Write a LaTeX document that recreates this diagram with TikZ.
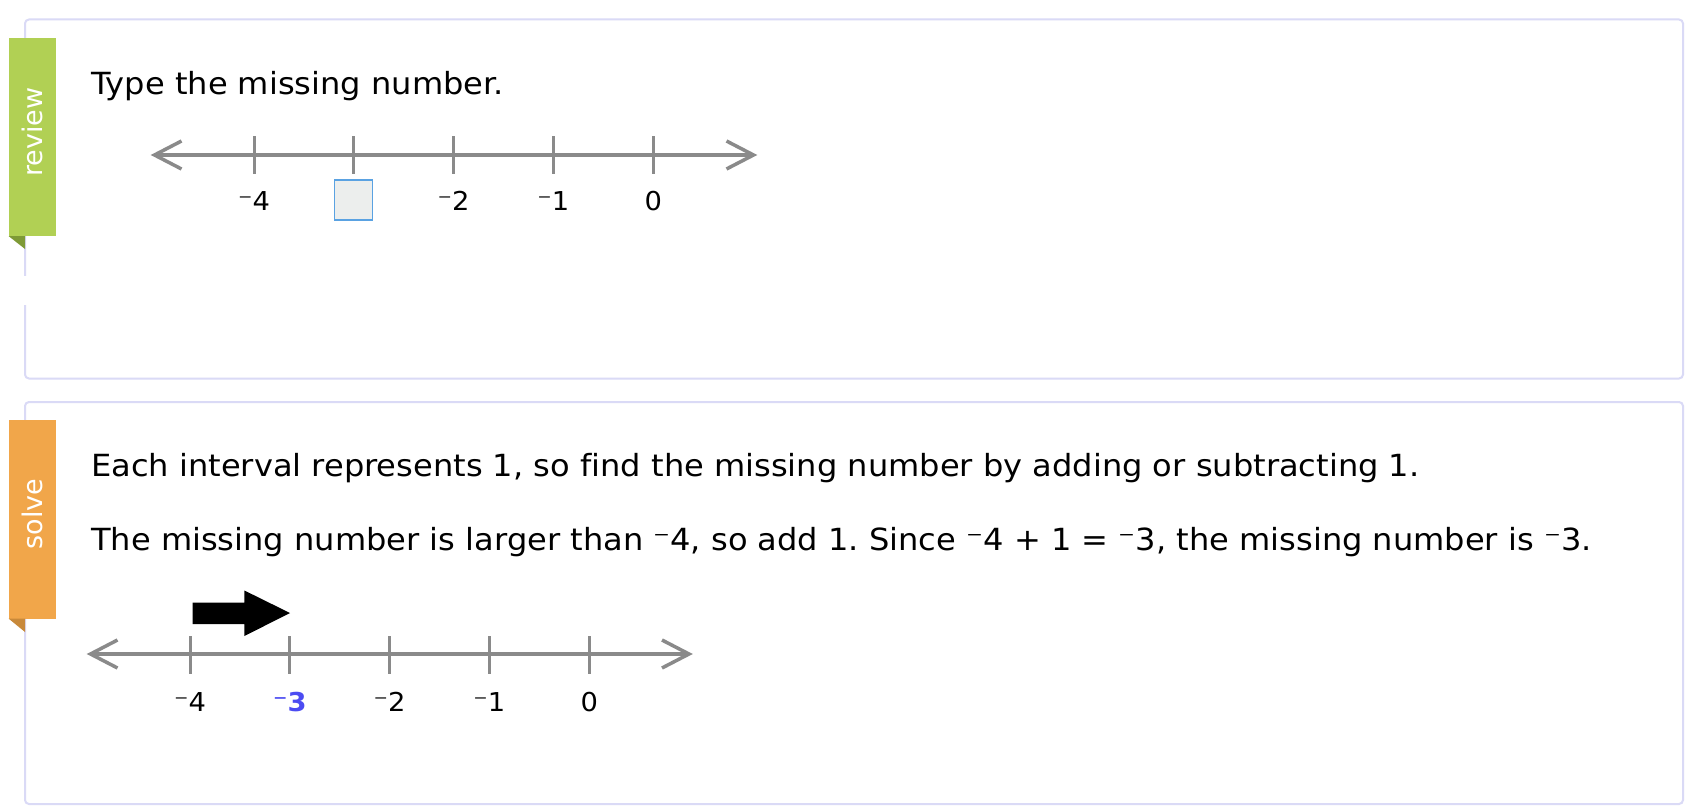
\documentclass[tikz,border=0pt]{standalone}
\usepackage{fontspec}
\setmainfont{DejaVu Sans}
\newfontfamily\bodyfont{DejaVu Sans}[FakeStretch=1.052, RawFeature={-liga}]
\frenchspacing
\definecolor{panelborder}{HTML}{DADAF6}
\definecolor{tabgreen}{HTML}{B1D054}
\definecolor{foldgreen}{HTML}{7E9A36}
\definecolor{taborange}{HTML}{F1A64A}
\definecolor{foldorange}{HTML}{C8893A}
\definecolor{axisgray}{HTML}{8A8A8A}
\definecolor{boxblue}{HTML}{5AA2E2}
\definecolor{boxfill}{HTML}{ECEEED}
\definecolor{answerblue}{HTML}{4C4CF2}
\tikzset{
  panel/.style={draw=panelborder, line width=2pt, rounded corners=4pt},
  tablabel/.style={rotate=90, text=white, inner sep=0pt, font=\fontsize{27}{32}\selectfont},
  bodytext/.style={anchor=base west, inner sep=0pt, font=\bodyfont\fontsize{30.5}{36}\selectfont},
  ticklabel/.style={anchor=base, inner sep=0pt, font=\bodyfont\fontsize{26}{30}\selectfont},
  axis/.style={draw=axisgray, line width=3.5pt},
  tickmark/.style={draw=axisgray, line width=3pt},
}
\begin{document}
\begin{tikzpicture}[x=1pt,y=-1pt]
\useasboundingbox[fill=white] (0,0) rectangle (1696,808);

% ---------- top panel ----------
\draw[panel] (25,19.5) rectangle (1683,378.5);
\fill[white] (23,276) rectangle (27,305);
\fill[tabgreen] (8.5,38) rectangle (56,236);
\fill[foldgreen] (8.5,236) -- (25,236) -- (25,249) -- cycle;
\node[tablabel] (reviewlabel) at (32,132) {review};

\node[bodytext] (question) at (91,94) {Type the missing number.};

% number line 1
\coordinate (a1l) at (154.5,155);
\coordinate (a1r) at (753.5,155);
\draw[axis] (a1l) -- (a1r);
\draw[axis] ([shift={(27,-14)}]a1l) -- (a1l) -- ([shift={(27,14)}]a1l);
\draw[axis] ([shift={(-27,-14)}]a1r) -- (a1r) -- ([shift={(-27,14)}]a1r);
\foreach \i in {0,...,4} {
  \draw[tickmark] ({254+99.8*\i},136) -- ({254+99.8*\i},174);
}
\node[ticklabel] (t1m4) at (254,210) {⁻4};
\node[draw=boxblue, fill=boxfill, line width=1.5pt, minimum width=38pt, minimum height=40pt, inner sep=0pt] (answerbox) at (353.6,200) {};
\node[ticklabel] (t1m2) at (453.6,210) {⁻2};
\node[ticklabel] (t1m1) at (553.4,210) {⁻1};
\node[ticklabel] (t1z) at (653.2,210) {0};

% ---------- bottom panel ----------
\draw[panel] (25,402) rectangle (1683,804);
\fill[taborange] (8.5,420) rectangle (56,618.5);
\fill[foldorange] (8.5,618.5) -- (25,618.5) -- (25,632) -- cycle;
\node[tablabel] (solvelabel) at (32,514) {solve};

\node[bodytext] (line1) at (91,476) {Each interval represents 1, so find the missing number by adding or subtracting 1.};
\node[bodytext] (line2) at (91,550) {The missing number is larger than ⁻4, so add 1. Since ⁻4 + 1 = ⁻3, the missing number is ⁻3.};

% black arrow
\fill[black] (192.5,602.5) -- (244.4,602.5) -- (244.4,590.5) -- (290,613) -- (244.4,636) -- (244.4,624) -- (192.5,624) -- cycle;

% number line 2
\coordinate (a2l) at (90.5,654);
\coordinate (a2r) at (689,654);
\draw[axis] (a2l) -- (a2r);
\draw[axis] ([shift={(27,-14)}]a2l) -- (a2l) -- ([shift={(27,14)}]a2l);
\draw[axis] ([shift={(-27,-14)}]a2r) -- (a2r) -- ([shift={(-27,14)}]a2r);
\foreach \i in {0,...,4} {
  \draw[tickmark] ({190+99.8*\i},636) -- ({190+99.8*\i},674);
}
\node[ticklabel] (t2m4) at (190,711) {⁻4};
\node[ticklabel, text=answerblue, font=\bodyfont\fontsize{26}{30}\selectfont\bfseries] (t2m3) at (289.8,711) {⁻3};
\node[ticklabel] (t2m2) at (389.6,711) {⁻2};
\node[ticklabel] (t2m1) at (489.4,711) {⁻1};
\node[ticklabel] (t2z) at (589.2,711) {0};
\end{tikzpicture}
\end{document}
